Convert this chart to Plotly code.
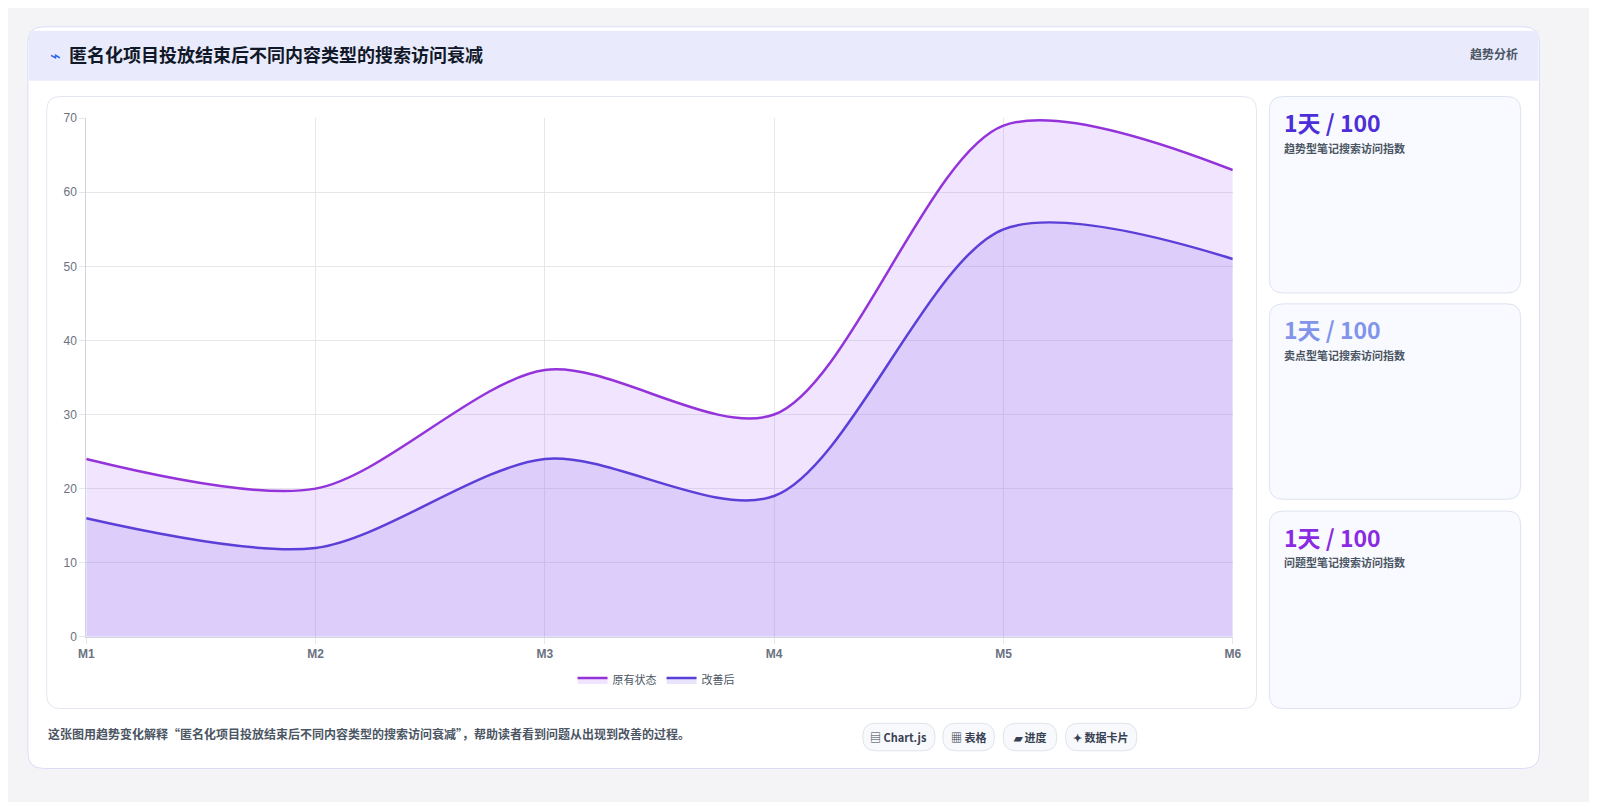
import plotly.graph_objects as go

months = ["M1", "M2", "M3", "M4", "M5", "M6"]
original = [24, 20, 36, 30, 69, 63]
improved = [16, 12, 24, 19, 55, 51]
card_values = ["1天 / 100", "1天 / 100", "1天 / 100"]
card_labels = ["趋势型笔记搜索访问指数", "卖点型笔记搜索访问指数", "问题型笔记搜索访问指数"]
card_colors = ["#4c2fd6", "#8194ea", "#8a2be2"]
chips = ["▤ Chart.js", "▦ 表格", "▰ 进度", "✦ 数据卡片"]

OFF = 8
W, H = 1597 - 2 * OFF, 810 - 2 * OFF
def px(x): return (x - OFF) / W
def py(y): return 1 - (y - OFF) / H

def rrect(x0, y0, x1, y1, r, fill, line="#dfe3f0", width=1):
    X0, X1 = px(x0), px(x1)
    Y0, Y1 = py(y0), py(y1)
    rx, ry = r / W, r / H
    d = (f"M{X0+rx},{Y0} L{X1-rx},{Y0} Q{X1},{Y0} {X1},{Y0-ry} "
         f"L{X1},{Y1+ry} Q{X1},{Y1} {X1-rx},{Y1} L{X0+rx},{Y1} "
         f"Q{X0},{Y1} {X0},{Y1+ry} L{X0},{Y0-ry} Q{X0},{Y0} {X0+rx},{Y0} Z")
    return dict(type="path", xref="paper", yref="paper", path=d,
                fillcolor=fill, line=dict(color=line, width=width), layer="below")

fig = go.Figure()
fig.add_trace(go.Scatter(x=months, y=original, name="原有状态", mode="lines",
                         line=dict(shape="spline", color="#9333d9", width=2.5, smoothing=0.85),
                         fill="tozeroy", fillcolor="rgba(168,85,247,0.16)"))
fig.add_trace(go.Scatter(x=months, y=improved, name="改善后", mode="lines",
                         line=dict(shape="spline", color="#5a3fd8", width=2.5, smoothing=0.85),
                         fill="tozeroy", fillcolor="rgba(124,92,240,0.17)"))

shapes = [
    rrect(20, 20, 1548, 775, 16, "#ffffff", "#d9ddf5"),
    dict(type="rect", xref="paper", yref="paper", x0=px(21), x1=px(1547), y0=py(75), y1=py(24),
         fillcolor="#e9ebfd", line=dict(width=0), layer="below"),
    rrect(39, 91, 1262, 714, 14, "#ffffff", "#e3e6f0"),
]
for a, b in [(91, 291), (302, 501), (513, 714)]:
    shapes.append(rrect(1275, a, 1529, b, 14, "#f8faff", "#dde3f0"))
chip_x = [(864, 937), (945, 997), (1006, 1060), (1069, 1141)]
for a, b in chip_x:
    shapes.append(rrect(a, 729, b, 757, 13, "#f8f9fc", "#e0e3ea"))

ann = [
    dict(x=px(40), y=py(48), text="<span style='color:#2563eb'>⌁</span>  <b>匿名化项目投放结束后不同内容类型的搜索访问衰减</b>",
         font=dict(size=18, color="#111827"), xanchor="left", yanchor="middle"),
    dict(x=px(1528), y=py(47), text="<b>趋势分析</b>", font=dict(size=12, color="#4b5563"),
         xanchor="right", yanchor="middle"),
    dict(x=px(38), y=py(739), text="<b>这张图用趋势变化解释“匿名化项目投放结束后不同内容类型的搜索访问衰减”，帮助读者看到问题从出现到改善的过程。</b>",
         font=dict(size=12, color="#4b5563"), xanchor="left", yanchor="middle"),
]
for i, top in enumerate([91, 302, 513]):
    ann.append(dict(x=px(1288), y=py(top + 26), text=f"<b>{card_values[i]}</b>",
                    font=dict(size=23, color=card_colors[i]), xanchor="left", yanchor="middle"))
    ann.append(dict(x=px(1288), y=py(top + 52), text=f"<b>{card_labels[i]}</b>",
                    font=dict(size=11, color="#4b5563"), xanchor="left", yanchor="middle"))
for (a, b), t in zip(chip_x, chips):
    ann.append(dict(x=px((a + b) / 2), y=py(743), text=f"<b>{t}</b>",
                    font=dict(size=11, color="#374151"), xanchor="center", yanchor="middle"))
for a in ann:
    a.update(xref="paper", yref="paper", showarrow=False)

fig.update_layout(
    width=W, height=H, margin=dict(l=0, r=0, t=0, b=0),
    paper_bgcolor="#f4f4f7", plot_bgcolor="rgba(0,0,0,0)",
    font=dict(family="Noto Sans CJK SC, sans-serif"),
    shapes=shapes, annotations=ann,
    xaxis=dict(domain=[px(79), px(1238)], range=[0, 5], showgrid=True, gridcolor="#e5e7eb",
               tickfont=dict(size=12, color="#6b7280", family="Liberation Sans"),
               showline=True, linecolor="#d1d5db", ticks="outside", tickcolor="#e5e7eb", ticklen=6,
               tickprefix="<b>", ticksuffix="</b>"),
    yaxis=dict(domain=[py(641), py(113)], range=[0, 70], dtick=10, showgrid=True, gridcolor="#e5e7eb",
               tickfont=dict(size=12, color="#6b7280", family="Liberation Sans"),
               showline=True, linecolor="#d1d5db", ticks="outside", tickcolor="#e5e7eb", ticklen=6,
               zeroline=False),
    legend=dict(orientation="h", x=px(655), xanchor="center", y=py(685), yanchor="middle",
                font=dict(size=11, color="#4b5563"), bgcolor="rgba(0,0,0,0)"),
    showlegend=True,
)
fig.write_html("out.html")
